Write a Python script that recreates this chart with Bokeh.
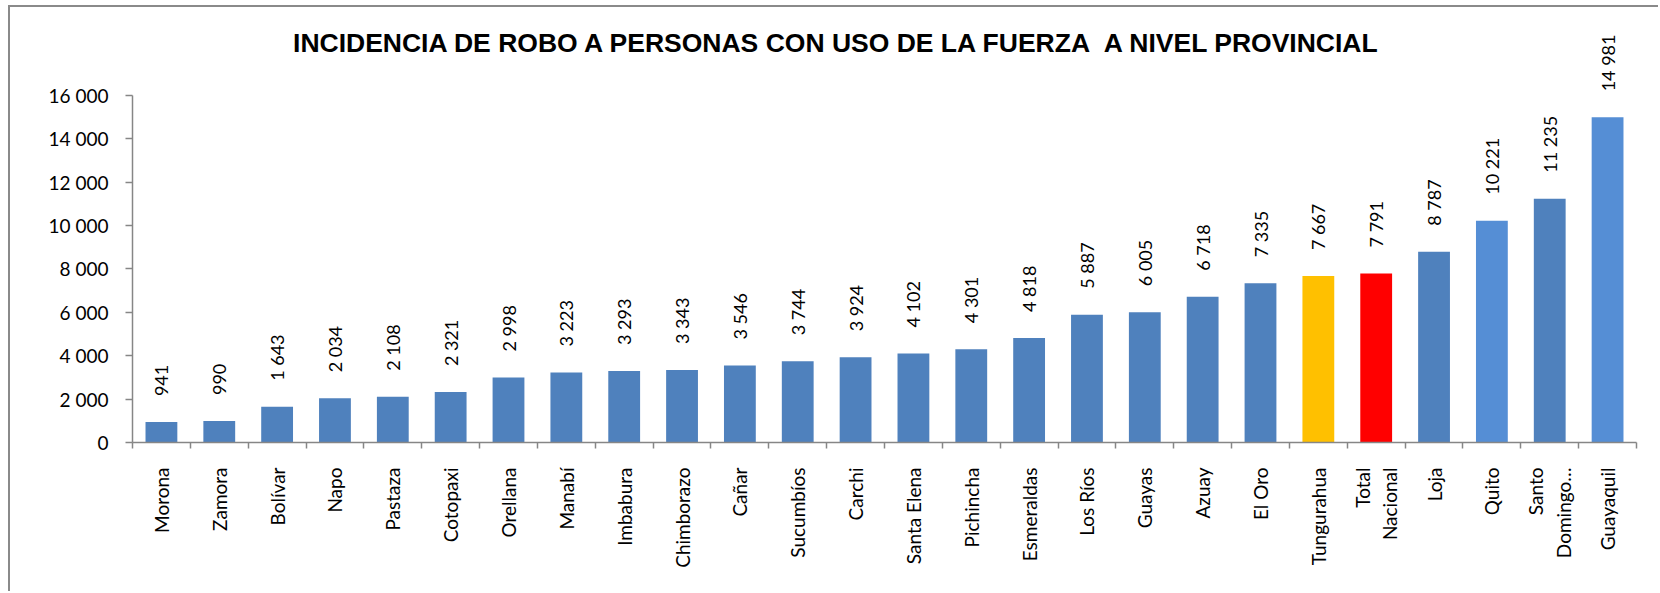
from math import pi

from bokeh.plotting import figure
from bokeh.models import (Range1d, LinearAxis, FixedTicker, ColumnDataSource,
                          Label)
from bokeh.embed import file_html
from bokeh.resources import INLINE
from bokeh.core.properties import value

# ---------------- data ----------------
CATEGORIES = ["Morona", "Zamora", "Bolívar", "Napo", "Pastaza", "Cotopaxi",
              "Orellana", "Manabí", "Imbabura", "Chimborazo", "Cañar",
              "Sucumbíos", "Carchi", "Santa Elena", "Pichincha", "Esmeraldas",
              "Los Ríos", "Guayas", "Azuay", "El Oro", "Tungurahua",
              "Total\nNacional", "Loja", "Quito", "Santo\nDomingo…",
              "Guayaquil"]
VALUES = [941, 990, 1643, 2034, 2108, 2321, 2998, 3223, 3293, 3343, 3546,
          3744, 3924, 4102, 4301, 4818, 5887, 6005, 6718, 7335, 7667, 7791,
          8787, 10221, 11235, 14981]
BAR_COLORS = (["#4F81BD"] * 20 +
              ["#FFC000", "#FF0000", "#4F81BD", "#558ED5", "#4F81BD", "#558ED5"])
Y_TICKS = [0, 2000, 4000, 6000, 8000, 10000, 12000, 14000, 16000]
Y_TICK_LABELS = ["0", "2 000", "4 000", "6 000", "8 000", "10 000",
                 "12 000", "14 000", "16 000"]
TITLE = "INCIDENCIA DE ROBO A PERSONAS CON USO DE LA FUERZA \u00a0A NIVEL PROVINCIAL"

n = len(CATEGORIES)
xpos = list(range(n))
value_labels = [f"{v:,}".replace(",", " ") for v in VALUES]

src = ColumnDataSource(dict(x=xpos, val=VALUES, color=BAR_COLORS,
                            label=value_labels))

FONT = "Lato"
FS = "18px"
AXIS_GRAY = "#868686"

p = figure(x_range=Range1d(-0.5, n - 0.5),
           y_range=Range1d(0, 19950),
           width=1650, height=586,
           output_backend="svg", toolbar_location=None,
           x_axis_location=None,
           min_border_left=122, min_border_right=24,
           min_border_top=2, min_border_bottom=151)
p.styles = {"border-left": "2px solid #8a8a8a",
            "border-top": "2px solid #8a8a8a",
            "margin-left": "8px",
            "margin-top": "5px"}

p.xgrid.visible = False
p.ygrid.visible = False
p.outline_line_color = None
p.background_fill_color = "white"
p.border_fill_color = "white"

# y axis
ya = p.yaxis[0]
ya.ticker = FixedTicker(ticks=Y_TICKS)
ya.bounds = (Y_TICKS[0], Y_TICKS[-1])
ya.major_label_overrides = {t: s for t, s in zip(Y_TICKS, Y_TICK_LABELS)}
ya.axis_line_color = AXIS_GRAY
ya.axis_line_width = 1.5
ya.major_tick_line_color = AXIS_GRAY
ya.major_tick_line_width = 1.5
ya.major_tick_out = 7
ya.major_tick_in = 0
ya.minor_tick_line_color = None
ya.major_label_text_font = FONT
ya.major_label_text_font_size = "19px"
ya.major_label_text_color = "black"
ya.major_label_standoff = 17

# tick marks between categories (no labels)
edge_axis = LinearAxis(ticker=FixedTicker(ticks=[i - 0.5 for i in range(n + 1)]))
edge_axis.axis_line_color = AXIS_GRAY
edge_axis.axis_line_width = 1.5
edge_axis.major_tick_line_color = AXIS_GRAY
edge_axis.major_tick_line_width = 1.5
edge_axis.major_tick_out = 6
edge_axis.major_tick_in = 0
edge_axis.minor_tick_line_color = None
edge_axis.major_label_text_font_size = "0px"
edge_axis.major_label_text_color = None
edge_axis.major_label_standoff = 0
p.add_layout(edge_axis, "below")

# category names
cat_axis = LinearAxis(ticker=FixedTicker(ticks=xpos))
cat_axis.major_label_overrides = {i: c for i, c in zip(xpos, CATEGORIES)}
cat_axis.axis_line_color = None
cat_axis.major_tick_line_color = None
cat_axis.minor_tick_line_color = None
cat_axis.major_label_orientation = pi / 2
cat_axis.major_label_text_font = FONT
cat_axis.major_label_text_font_size = "19px"
cat_axis.major_label_text_color = "black"
cat_axis.major_label_standoff = 13
p.add_layout(cat_axis, "below")

# bars
p.vbar(x="x", top="val", width=0.55, fill_color="color", line_color=None,
       source=src)

# value labels
p.text(x="x", y="val", text="label", angle=pi / 2, text_align="left",
       text_baseline="middle", y_offset=-26, text_font=value(FONT),
       text_font_size=FS, text_color="black", source=src)

# title
p.add_layout(Label(x=11.705, y=18400, text=TITLE, text_align="center",
                   text_baseline="alphabetic", text_font="Liberation Sans",
                   text_font_style="bold", text_font_size="26.5px",
                   text_color="black"))

open("out.html", "w").write(file_html(p, INLINE))
